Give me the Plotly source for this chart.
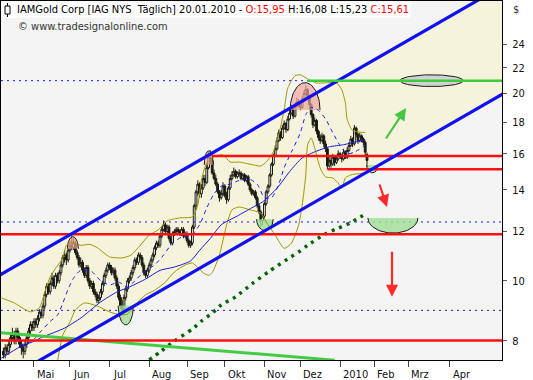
import numpy as np
import plotly.graph_objects as go

# ---------------- data ----------------
opens = [7.7,7.6,7.8,7.7,7.9,8.1,8.2,8.0,8.3,8.1,
         7.9,7.8,7.7,7.9,8.1,8.3,8.5,8.4,8.6,8.5,
         8.7,8.9,8.8,9.1,9.5,9.8,9.6,9.9,10.1,9.8,
         10.2,10.0,10.3,10.6,10.9,11.0,10.8,11.2,11.4,11.3,
         11.5,11.1,10.9,10.6,10.7,10.4,10.2,10.5,10.0,9.8,
         9.9,9.6,9.5,9.3,9.4,9.6,9.9,10.2,10.4,10.6,
         10.5,10.3,10.4,10.1,9.8,9.4,9.1,9.0,9.4,9.7,
         10.0,10.1,10.3,10.5,10.8,10.7,11.0,10.9,10.6,10.3,
         10.2,10.4,10.6,10.8,11.0,11.3,11.5,11.4,11.8,12.1,
         12.3,12.0,12.2,11.7,11.5,11.9,12.0,12.1,12.0,11.9,
         12.1,11.8,11.9,11.6,11.4,11.5,12.2,13.2,13.9,14.3,
         13.8,14.1,14.6,14.4,15.2,15.8,15.6,14.9,14.6,14.3,
         13.9,13.6,13.8,14.2,13.7,13.5,14.1,14.6,14.8,15.0,
         14.7,14.9,14.9,14.6,14.8,14.5,14.7,14.3,14.0,13.8,
         13.9,13.6,13.2,12.9,12.5,12.7,13.3,13.9,14.2,14.8,
         15.4,15.9,16.3,16.8,17.3,17.0,17.6,17.9,17.5,18.2,
         18.6,18.9,18.4,19.1,19.4,19.2,19.0,19.6,20.0,20.3,
         19.8,19.2,18.5,17.8,18.1,17.4,17.0,16.8,17.1,16.6,
         16.3,15.3,15.6,15.4,15.8,15.5,15.7,16.0,15.9,15.7,
         16.1,15.8,16.2,16.5,16.9,16.6,17.6,17.2,16.8,17.1,
         16.9,16.7,15.95]
highs = [7.8,7.9,7.9,8.0,8.2,8.4,8.3,8.4,8.4,8.2,
         8.0,7.9,8.0,8.2,8.4,8.6,8.6,8.7,8.7,8.8,
         9.0,9.0,9.2,9.6,9.9,9.9,10.0,10.3,10.2,10.3,
         10.3,10.4,10.7,11.0,11.2,11.1,11.3,11.6,11.8,11.7,
         11.6,11.2,11.0,10.9,10.8,10.5,10.6,10.6,10.1,10.0,
         10.0,9.7,9.6,9.5,9.7,10.0,10.3,10.5,10.7,10.7,
         10.6,10.5,10.5,10.2,9.9,9.5,9.3,9.5,9.8,10.1,
         10.2,10.4,10.6,10.9,10.9,11.1,11.1,11.0,10.7,10.4,
         10.5,10.7,10.9,11.1,11.4,11.6,11.6,11.9,12.2,12.5,
         12.4,12.3,12.3,11.8,12.0,12.1,12.2,12.2,12.1,12.2,
         12.2,12.0,12.0,11.7,11.6,12.3,13.3,14.0,14.5,14.4,
         14.3,14.8,14.8,15.4,16.1,16.2,15.7,15.1,14.8,14.4,
         14.0,14.0,14.4,14.3,13.9,14.2,14.8,15.0,15.2,15.1,
         15.0,15.1,15.0,14.9,14.9,14.8,14.8,14.4,14.1,14.0,
         14.0,13.7,13.3,13.0,12.8,13.4,14.0,14.3,14.9,15.5,
         16.0,16.5,17.0,17.5,17.4,17.8,18.1,18.0,18.4,18.8,
         19.2,19.0,19.3,19.7,19.6,19.4,19.8,20.2,20.6,20.4,
         19.9,19.3,18.6,18.3,18.2,17.5,17.2,17.3,17.2,16.8,
         16.4,15.8,15.8,16.0,15.9,15.9,16.2,16.1,16.0,16.3,
         16.2,16.4,16.7,17.1,17.0,17.8,17.7,17.3,17.3,17.2,
         17.0,16.8,16.08]
lows = [7.5,7.5,7.6,7.6,7.8,8.0,7.9,7.9,8.0,7.8,
        7.6,7.5,7.6,7.8,8.0,8.2,8.3,8.3,8.4,8.4,
        8.6,8.7,8.7,9.0,9.4,9.5,9.5,9.8,9.7,9.7,
        9.9,9.9,10.2,10.5,10.7,10.6,10.7,11.1,11.2,11.2,
        11.0,10.8,10.5,10.5,10.3,10.1,10.1,9.9,9.7,9.7,
        9.5,9.4,9.2,9.2,9.3,9.5,9.8,10.1,10.3,10.4,
        10.2,10.2,10.0,9.7,9.3,9.0,8.9,8.9,9.3,9.6,
        9.9,10.0,10.2,10.4,10.6,10.6,10.8,10.5,10.2,10.1,
        10.1,10.3,10.5,10.7,10.9,11.2,11.3,11.3,11.7,12.0,
        11.9,11.9,11.6,11.4,11.4,11.8,11.9,11.9,11.8,11.8,
        11.7,11.7,11.5,11.3,11.3,11.4,12.1,13.0,13.7,13.6,
        13.6,14.0,14.2,14.3,15.1,15.4,14.8,14.5,14.2,13.8,
        13.4,13.5,13.7,13.6,13.3,13.4,14.0,14.5,14.7,14.6,
        14.6,14.7,14.5,14.5,14.4,14.4,14.2,13.9,13.7,13.7,
        13.5,13.1,12.8,12.2,12.3,12.6,13.2,13.8,14.1,14.7,
        15.3,15.8,16.2,16.7,16.8,16.9,17.5,17.3,17.4,18.1,
        18.5,18.2,18.3,19.0,19.0,18.8,18.9,19.5,19.9,19.6,
        19.0,18.3,17.6,17.7,17.2,16.8,16.6,16.7,16.4,16.1,
        15.1,15.2,15.2,15.3,15.3,15.4,15.6,15.7,15.5,15.6,
        15.7,15.7,16.1,16.4,16.4,16.5,17.0,16.6,16.7,16.7,
        16.5,15.9,15.23]
closes = [7.6,7.8,7.7,7.9,8.1,8.2,8.0,8.3,8.1,7.9,
          7.8,7.7,7.9,8.1,8.3,8.5,8.4,8.6,8.5,8.7,
          8.9,8.8,9.1,9.5,9.8,9.6,9.9,10.1,9.8,10.2,
          10.0,10.3,10.6,10.9,11.0,10.8,11.2,11.4,11.3,11.5,
          11.1,10.9,10.6,10.7,10.4,10.2,10.5,10.0,9.8,9.9,
          9.6,9.5,9.3,9.4,9.6,9.9,10.2,10.4,10.6,10.5,
          10.3,10.4,10.1,9.8,9.4,9.1,9.0,9.4,9.7,10.0,
          10.1,10.3,10.5,10.8,10.7,11.0,10.9,10.6,10.3,10.2,
          10.4,10.6,10.8,11.0,11.3,11.5,11.4,11.8,12.1,12.3,
          12.0,12.2,11.7,11.5,11.9,12.0,12.1,12.0,11.9,12.1,
          11.8,11.9,11.6,11.4,11.5,12.2,13.2,13.9,14.3,13.8,
          14.1,14.6,14.4,15.2,15.8,15.6,14.9,14.6,14.3,13.9,
          13.6,13.8,14.2,13.7,13.5,14.1,14.6,14.8,15.0,14.7,
          14.9,14.9,14.6,14.8,14.5,14.7,14.3,14.0,13.8,13.9,
          13.6,13.2,12.9,12.5,12.7,13.3,13.9,14.2,14.8,15.4,
          15.9,16.3,16.8,17.3,17.0,17.6,17.9,17.5,18.2,18.6,
          18.9,18.4,19.1,19.4,19.2,19.0,19.6,20.0,20.3,19.8,
          19.2,18.5,17.8,18.1,17.4,17.0,16.8,17.1,16.6,16.3,
          15.3,15.6,15.4,15.8,15.5,15.7,16.0,15.9,15.7,16.1,
          15.8,16.2,16.5,16.9,16.6,17.6,17.2,16.8,17.1,16.9,
          16.7,16.1,15.61]
days = list(range(1, len(closes) + 1))   # trading-day index

month_ticks = [18, 38, 60, 82, 103, 124, 146, 166, 188, 207, 226, 249]
month_labels = ["Mai", "Jun", "Jul", "Aug", "Sep", "Okt", "Nov", "Dez", "2010", "Feb", "Mrz", "Apr"]
price_ticks = [8, 10, 12, 14, 16, 18, 20, 22, 24]

# indicator lines (read at sample points)
ma_fast_x = [10, 17, 22, 27, 31, 34, 37, 40, 44, 50, 55, 60, 65, 70, 75, 80, 85, 90, 95, 100,
             105, 110, 114, 118, 122, 127, 132, 137, 142, 146, 150, 154, 157, 161, 166, 169,
             172, 176, 180, 184, 188, 192, 196, 202]
ma_fast_y = [7.88, 8.0, 8.3, 8.6, 8.8, 9.2, 9.7, 10.1, 10.4, 10.35, 10.0, 9.84, 9.95, 9.77, 10.06,
             10.39, 10.6, 11.0, 11.5, 11.75, 11.8, 12.3, 13.1, 13.8, 14.2, 14.3, 14.5, 14.6, 14.3,
             13.6, 13.6, 14.3, 15.2, 16.1, 17.3, 18.5, 19.0, 18.8, 18.2, 17.3, 16.5, 16.0, 16.1, 16.5]
ma_slow_x = [0, 10, 17, 23, 35, 44, 55, 64, 71, 80, 88, 96, 105, 110, 116, 122, 131, 139, 145,
             153, 160, 167, 175, 182, 190, 197, 202]
ma_slow_y = [7.51, 7.82, 7.97, 8.12, 8.39, 8.71, 9.24, 9.59, 9.77, 10.06, 10.39, 10.52, 10.76, 11.19,
             11.7, 12.3, 12.71, 13.1, 13.39, 14.08, 14.98, 15.76, 16.16, 16.42, 16.55, 16.73, 16.85]
ma200_x = [82, 88, 96, 106, 111, 117, 122, 130, 139, 149, 159, 165, 170, 180, 187, 194, 202]
ma200_y = [7.46, 7.68, 8.0, 8.36, 8.61, 8.87, 9.14, 9.42, 9.88, 10.37, 10.84, 11.12, 11.4, 11.9,
           12.15, 12.4, 12.8]
bb_upper_x = [0, 7, 16, 21, 24, 27, 30, 34, 36, 39, 44, 49, 53, 57, 60, 67, 72, 77, 82, 87, 92, 99,
              106, 109, 111, 114, 119, 123, 127, 132, 138, 144, 147, 151, 154, 157, 159, 163, 166,
              170, 175, 186, 189, 191, 192, 195, 202]
bb_upper_y = [9.38, 9.21, 8.91, 9.04, 9.59, 10.14, 10.47, 10.88, 11.4, 11.53, 11.4, 11.44, 11.31, 11.08,
              10.92, 10.88, 11.0, 11.4, 11.84, 12.07, 12.48, 12.62, 12.67, 13.24, 14.52, 15.47, 15.88,
              15.94, 15.52, 15.52, 15.4, 15.29, 15.52, 16.12, 17.18, 18.85, 20.42, 21.36, 21.44,
              21.12, 20.8, 20.8, 20.27, 19.32, 18.17, 17.44, 17.31]
bb_lower_x = [31, 34, 38, 41, 46, 53, 60, 66, 70, 74, 80, 85, 91, 96, 102, 106, 109, 112, 115, 117,
              121, 125, 128, 132, 138, 144, 147, 152, 157, 161, 165, 167, 169, 170, 172, 174, 177,
              180, 184, 187, 189, 191, 194, 202]
bb_lower_y = [7.4, 8.18, 8.58, 8.97, 9.21, 9.11, 8.91, 8.81, 8.84, 9.14, 9.49, 9.65, 9.95, 10.33,
              10.6, 10.68, 10.5, 10.3, 10.2, 10.3, 11.0, 12.29, 13.0, 13.14, 13.0, 12.85, 12.43,
              11.84, 11.27, 11.49, 12.29, 13.24, 14.8, 16.53, 16.97, 16.33, 15.18, 14.69, 14.63,
              14.36, 14.1, 14.63, 14.8, 14.9]

# drawn trend channel, levels and trend line
channel_x = [-1, 279]
channel_upper = [10.21, 29.86]
channel_lower = [6.84, 20.02]
red_levels = [15.87, 15.11, 11.88, 8.01]
red_starts = [117, 181, -1, -1]
dotted_levels = [20.98, 12.43, 8.96]
green_level = 20.98
green_level_start = 170
green_trend_x = [-1, 185]
green_trend_y = [8.25, 7.45]

# analyst marks: (centre day, half width in days, base price, extreme price)
top_marks = [(39.6, 3.05, 11.26, 11.77), (115.1, 2.5, 15.36, 16.18), (168.6, 8.3, 18.82, 20.82)]
bottom_marks = [(69.0, 4.2, 9.12, 8.49), (146.3, 4.6, 12.56, 12.04),
                (206.0, 3.1, 15.35, 14.91), (217.4, 13.9, 12.62, 11.93)]
target_ellipse = (238.9, 17.6, 20.98, 21.44)
arrows = [  # (tail day, tail price, head day, head price, colour)
    (213.0, 16.84, 224.7, 18.96, "#44c844"),
    (209.7, 14.36, 214.1, 13.14, "#ff2a2a"),
    (216.9, 11.19, 216.9, 9.42, "#ff2a2a"),
]

X_RANGE = [-0.33, 278]
Y_RANGE = [0.87245, 1.44994]
FONT = "DejaVu Sans Condensed, Liberation Sans, sans-serif"

fig = go.Figure()
skip = dict(hoverinfo="skip", showlegend=False)

# dotted blue levels
for lv in dotted_levels:
    fig.add_trace(go.Scatter(x=[X_RANGE[0], X_RANGE[1]], y=[lv, lv], mode="lines",
                             line=dict(color="#1a1aff", width=1, dash="2px,4px"), **skip))

# semicircle marks
t = np.linspace(0, np.pi, 41)
for c, w, base, ext in top_marks:
    xs = c + w * np.cos(t)
    ys = base * np.exp(np.log(ext / base) * np.sin(t))
    fig.add_trace(go.Scatter(x=list(xs) + [xs[0]], y=list(ys) + [ys[0]], mode="lines",
                             line=dict(width=0), fill="toself", fillcolor="rgba(240,165,155,0.7)", **skip))
    fig.add_trace(go.Scatter(x=xs, y=ys, mode="lines", line=dict(color="#1a1a1a", width=1), **skip))
for c, w, rim, ext in bottom_marks:
    xs = c + w * np.cos(t)
    ys = rim * np.exp(np.log(ext / rim) * np.sin(t))
    fig.add_trace(go.Scatter(x=list(xs) + [xs[0]], y=list(ys) + [ys[0]], mode="lines",
                             line=dict(width=0), fill="toself", fillcolor="rgba(160,222,150,0.8)", **skip))
    fig.add_trace(go.Scatter(x=xs, y=ys, mode="lines", line=dict(color="#1a1a1a", width=1), **skip))

# candles
fig.add_trace(go.Candlestick(
    x=days, open=opens, high=highs, low=lows, close=closes,
    increasing=dict(line=dict(color="#1a1a10", width=1), fillcolor="white"),
    decreasing=dict(line=dict(color="#1a1a10", width=1), fillcolor="#1a1a10"),
    whiskerwidth=0, hoverinfo="skip", showlegend=False))

# indicators
fig.add_trace(go.Scatter(x=bb_upper_x, y=bb_upper_y, mode="lines",
                         line=dict(color="#9c9a00", width=1, shape="spline", smoothing=0.6), **skip))
fig.add_trace(go.Scatter(x=bb_lower_x, y=bb_lower_y, mode="lines",
                         line=dict(color="#9c9a00", width=1, shape="spline", smoothing=0.6), **skip))
fig.add_trace(go.Scatter(x=ma_slow_x, y=ma_slow_y, mode="lines",
                         line=dict(color="#1a1ae0", width=1, shape="spline", smoothing=0.6), **skip))
fig.add_trace(go.Scatter(x=ma_fast_x, y=ma_fast_y, mode="lines",
                         line=dict(color="#1a1aff", width=1, dash="4px,4px", shape="spline", smoothing=0.6), **skip))
fig.add_trace(go.Scatter(x=ma200_x, y=ma200_y, mode="lines",
                         line=dict(color="#0a640a", width=3.5, dash="3px,5px", shape="spline", smoothing=0.6), **skip))

# green lower trend line
fig.add_trace(go.Scatter(x=green_trend_x, y=green_trend_y, mode="lines",
                         line=dict(color="#44cc44", width=3), **skip))

# red horizontal levels
for lv, st in zip(red_levels, red_starts):
    fig.add_trace(go.Scatter(x=[max(st, X_RANGE[0]), X_RANGE[1]], y=[lv, lv], mode="lines",
                             line=dict(color="#ff1010", width=2.5), **skip))

# channel boundary lines
fig.add_trace(go.Scatter(x=channel_x, y=channel_upper, mode="lines",
                         line=dict(color="#1010f0", width=3.2), **skip))
fig.add_trace(go.Scatter(x=channel_x, y=channel_lower, mode="lines",
                         line=dict(color="#1010f0", width=3.2), **skip))

# target ellipse
ec, ew, emid, etop = target_ellipse
tt = np.linspace(0, 2 * np.pi, 81)
ex = ec + ew * np.cos(tt)
ey = emid * np.exp(np.log(etop / emid) * np.sin(tt))
fig.add_trace(go.Scatter(x=ex, y=ey, mode="lines", fill="toself", fillcolor="#d2d2d2",
                         line=dict(color="#1a1a1a", width=1), **skip))

# green target level
fig.add_trace(go.Scatter(x=[green_level_start, X_RANGE[1]], y=[green_level, green_level], mode="lines",
                         line=dict(color="#3ccc3c", width=2.5), **skip))

annotations = []
for tx, ty, hx, hy, col in arrows:
    annotations.append(dict(x=hx, y=np.log10(hy), ax=tx, ay=np.log10(ty), xref="x", yref="y",
                            axref="x", ayref="y", text="", showarrow=True, arrowhead=2,
                            arrowsize=1.1, arrowwidth=2.2, arrowcolor=col))

W, H = 533, 380
ML, MR, MT, MB = 1, 31, 1, 20
PW, PH = W - ML - MR, H - MT - MB


def px(xp):
    return (xp - ML) / PW


def py(yp):
    return 1 - (yp - MT) / PH


for tv, tl in zip(month_ticks, month_labels):
    annotations.append(dict(x=tv, y=py(366), xref="x", yref="paper", text=tl, showarrow=False,
                            xanchor="left", yanchor="top", xshift=1,
                            font=dict(family=FONT, size=11, color="#111")))

last = len(closes) - 1
fmt = lambda v: f"{v:.2f}".replace(".", ",")
header = (f"IAMGold Corp [IAG NYS\u00a0 Täglich] 20.01.2010 - "
          f"<span style='color:#ff0000'>O:{fmt(opens[last])}</span> H:{fmt(highs[last])} "
          f"L:{fmt(lows[last])} <span style='color:#ff0000'>C:{fmt(closes[last])}</span>")
annotations.append(dict(x=px(15), y=py(10), xref="paper", yref="paper", text=header, showarrow=False,
                        xanchor="left", yanchor="middle", bgcolor="white", borderpad=1,
                        font=dict(family=FONT, size=11, color="#000")))
annotations.append(dict(x=px(16), y=py(26), xref="paper", yref="paper",
                        text="© www.tradesignalonline.com", showarrow=False,
                        xanchor="left", yanchor="middle",
                        font=dict(family=FONT, size=11, color="#333")))
annotations.append(dict(x=px(516), y=py(10), xref="paper", yref="paper", text="$", showarrow=False,
                        xanchor="center", yanchor="middle",
                        font=dict(family=FONT, size=11, color="#333")))

channel_path = (f"M {channel_x[0]},{channel_lower[0]} L {channel_x[1]},{channel_lower[1]} "
                f"L {channel_x[1]},{channel_upper[1]} L {channel_x[0]},{channel_upper[0]} Z")
shapes = [
    dict(type="path", xref="x", yref="y", path=channel_path, fillcolor="#f5f3dc",
         line=dict(width=0), layer="below"),
    dict(type="rect", xref="paper", yref="paper", x0=0, x1=px(16), y0=py(18), y1=1,
         fillcolor="white", line=dict(width=0), layer="above"),
    dict(type="line", xref="paper", yref="paper", x0=px(7.5), x1=px(7.5), y0=py(17), y1=py(3),
         line=dict(color="#000", width=1), layer="above"),
    dict(type="rect", xref="paper", yref="paper", x0=px(5), x1=px(10), y0=py(14), y1=py(6),
         fillcolor="white", line=dict(color="#000", width=1), layer="above"),
]

fig.update_layout(
    width=W, height=H, margin=dict(l=ML, r=MR, t=MT, b=MB),
    paper_bgcolor="white", plot_bgcolor="#f4f4f4", showlegend=False,
    annotations=annotations, shapes=shapes, boxgap=0.0, boxgroupgap=0.0,
    font=dict(family=FONT, size=11, color="#111"),
    xaxis=dict(range=X_RANGE, tickvals=month_ticks, showticklabels=False, ticks="outside",
               ticklen=6, tickcolor="#444", showline=True, mirror=True, linecolor="#000",
               linewidth=1, showgrid=False, zeroline=False, rangeslider=dict(visible=False),
               fixedrange=True),
    yaxis=dict(type="log", range=Y_RANGE, side="right", tickvals=price_ticks,
               ticktext=[str(v) for v in price_ticks], ticks="outside", ticklen=4,
               tickcolor="#555", showline=True, mirror=True, linecolor="#000", linewidth=1,
               showgrid=False, zeroline=False, fixedrange=True, ticklabelstandoff=3,
               tickfont=dict(family=FONT, size=11, color="#111")),
)

fig.write_html("out.html", include_plotlyjs=True, config={"displayModeBar": False},
               post_script="document.body.style.margin='0';document.body.style.padding='0';")
